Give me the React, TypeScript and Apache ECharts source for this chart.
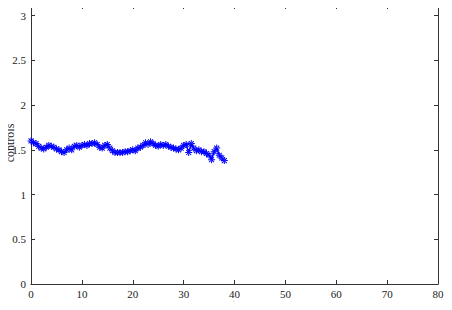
import React, { useEffect, useRef } from "react";
import * as echarts from "echarts";

const tValues: number[] = [
  0, 0.5, 1, 1.5, 2, 2.5, 3, 3.5, 4, 4.5, 5, 5.5, 6, 6.5, 7, 7.5, 8, 8.5, 9, 9.5,
  10, 10.5, 11, 11.5, 12, 12.5, 13, 13.5, 14, 14.5, 15, 15.5, 16, 16.5, 17, 17.5,
  18, 18.5, 19, 19.5, 20, 20.5, 21, 21.5, 22, 22.5, 23, 23.5, 24, 24.5, 25, 25.5,
  26, 26.5, 27, 27.5, 28, 28.5, 29, 29.5, 30, 30.5, 31, 31.5, 32, 32.5, 33, 33.5,
  34, 34.5, 35, 35.5, 36, 36.5, 37, 37.5, 38,
];
const controls: number[] = [
  1.6, 1.58, 1.57, 1.54, 1.52, 1.51, 1.53, 1.55, 1.54, 1.53, 1.51, 1.5, 1.48, 1.47,
  1.5, 1.52, 1.5, 1.54, 1.55, 1.53, 1.55, 1.56, 1.55, 1.57, 1.57, 1.58, 1.56, 1.53,
  1.52, 1.55, 1.56, 1.52, 1.49, 1.47, 1.47, 1.47, 1.47, 1.48, 1.48, 1.49, 1.5, 1.49,
  1.52, 1.53, 1.55, 1.58, 1.56, 1.59, 1.57, 1.55, 1.54, 1.56, 1.55, 1.56, 1.54, 1.53,
  1.52, 1.51, 1.5, 1.52, 1.55, 1.56, 1.47, 1.57, 1.52, 1.49, 1.5, 1.48, 1.48, 1.46,
  1.44, 1.39, 1.48, 1.52, 1.44, 1.41, 1.38,
];
const xTicks: number[] = [0, 10, 20, 30, 40, 50, 60, 70, 80];
const yTicks: number[] = [0, 0.5, 1, 1.5, 2, 2.5, 3];
const xName = "t";
const yName = "controls";

const asterisk =
  "path://M0 4.3H10V5.7H0Z M4.3 0H5.7V10H4.3Z M1 2L2 1L9 8L8 9Z M9 2L8 1L1 8L2 9Z";

export default function App() {
  const ref = useRef<HTMLDivElement>(null);
  useEffect(() => {
    if (!ref.current) return;
    const chart = echarts.init(ref.current, undefined, { renderer: "svg" });
    const font = "Liberation Serif";
    const axisColor = "#333";
    const labelColor = "#222";
    const yFmt = (v: number) =>
      yTicks.some((t) => Math.abs(t - v) < 1e-9) ? String(v) : "";
    const xFmt = (v: number) => (xTicks.includes(v) ? String(v) : "");
    chart.setOption({
      animation: false,
      backgroundColor: "#fff",
      textStyle: { fontFamily: font },
      grid: {
        left: 31,
        right: 14,
        top: 5,
        bottom: 26,
        containLabel: false,
        outerBoundsMode: "none",
      },
      graphic: [
        {
          type: "text",
          x: 10,
          y: 143,
          rotation: Math.PI / 2,
          silent: true,
          style: {
            text: yName,
            fontFamily: font,
            fontSize: 12,
            fill: labelColor,
            align: "center",
            verticalAlign: "middle",
          },
        },
        {
          type: "text",
          x: 234,
          y: 309,
          silent: true,
          style: {
            text: xName,
            fontFamily: font,
            fontSize: 12,
            lineHeight: 9,
            fill: labelColor,
            align: "center",
            verticalAlign: "bottom",
          },
        },
      ],
      xAxis: [
        {
          type: "value",
          min: 0,
          max: 80,
          interval: 10,
          axisLine: { show: true, onZero: false, lineStyle: { color: axisColor, width: 1 } },
          axisTick: { show: true, inside: true, length: 4, lineStyle: { color: axisColor } },
          axisLabel: {
            fontFamily: font,
            fontSize: 11,
            lineHeight: 11,
            color: labelColor,
            margin: 4,
            formatter: xFmt,
          },
          splitLine: { show: false },
        },
        {
          type: "value",
          position: "top",
          min: 0,
          max: 80,
          interval: 10,
          axisLine: { show: true, onZero: false, lineStyle: { color: "#777", width: 1 } },
          axisTick: { show: true, inside: true, length: 4, lineStyle: { color: axisColor } },
          axisLabel: { show: false },
          splitLine: { show: false },
        },
      ],
      yAxis: [
        {
          type: "value",
          min: 0,
          max: 3.12,
          interval: 0.5,
          axisLine: { show: true, onZero: false, lineStyle: { color: axisColor, width: 1 } },
          axisTick: { show: true, inside: true, length: 4, lineStyle: { color: axisColor } },
          axisLabel: { fontFamily: font, fontSize: 11, color: labelColor, margin: 5, formatter: yFmt },
          splitLine: { show: false },
        },
        {
          type: "value",
          position: "right",
          min: 0,
          max: 3.12,
          interval: 0.5,
          axisLine: { show: true, onZero: false, lineStyle: { color: axisColor, width: 1 } },
          axisTick: { show: true, inside: true, length: 4, lineStyle: { color: axisColor } },
          axisLabel: { show: false },
          splitLine: { show: false },
        },
      ],
      series: [
        {
          type: "line",
          xAxisIndex: 0,
          yAxisIndex: 0,
          data: tValues.map((t, i) => [t, controls[i]]),
          symbol: asterisk,
          symbolSize: 7,
          showAllSymbol: true,
          itemStyle: { color: "#0000ff" },
          lineStyle: { color: "#0000ff", width: 1.5 },
          silent: true,
        },
      ],
    });
    return () => chart.dispose();
  }, []);
  return <div ref={ref} style={{ width: 452, height: 310, margin: -8 }} />;
}
